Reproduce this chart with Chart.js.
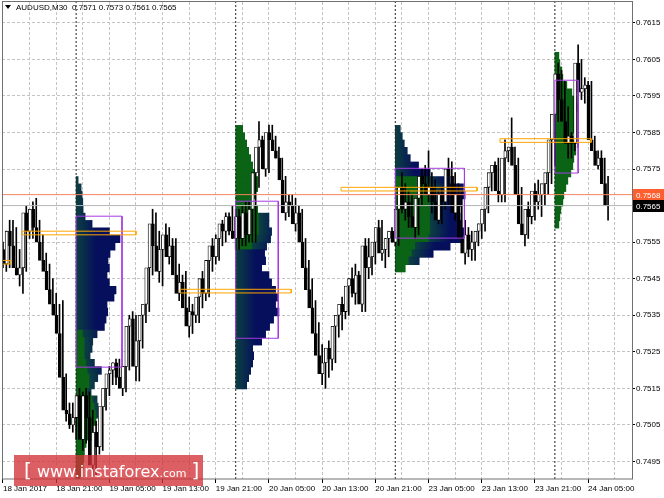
<!DOCTYPE html>
<html>
<head>
<meta charset="utf-8">
<title>AUDUSD M30</title>
<script src="https://cdn.jsdelivr.net/npm/chart.js@4.4.1/dist/chart.umd.min.js"></script>
<style>
  html, body { margin: 0; padding: 0; background: #fff; }
  #wrap { position: relative; width: 664px; height: 498px; overflow: hidden; }
  #chart { position: absolute; left: 0; top: 0; }
  #head { position: absolute; left: 5px; top: 3px; font: 8px "Liberation Sans", Arial, sans-serif; color: #000; white-space: nowrap; }
  #head .tri { display: inline-block; width: 0; height: 0; border-left: 3px solid transparent; border-right: 3px solid transparent; border-top: 4px solid #000; margin-right: 5px; vertical-align: 1px; }
  #mark { position: absolute; left: 14px; top: 455px; width: 189px; height: 31px; line-height: 30px; padding-left: 10px; box-sizing: border-box;
          background: rgba(210, 50, 55, 0.78); color: #fff; font-family: "DejaVu Sans", sans-serif; white-space: nowrap; }
  #mark .b { font-size: 20px; }
  #mark .w { font-size: 16px; }
  #mark .c { font-size: 11px; }
</style>
</head>
<body>
<div id="wrap">
  <canvas id="chart" width="664" height="498"></canvas>
  <div id="head"><span class="tri"></span>AUDUSD,M30&nbsp;&nbsp;0.7571 0.7573 0.7561 0.7565</div>
  <div id="mark"><span class="b">[</span> <span class="w">www.instaforex</span><span class="c">.com</span> <span class="b">]</span></div>
</div>
<script>
// bar index 0 = 19 Jan 00:00, one bar = 30 minutes (weekend skipped)
const firstBar = -22;

const openP = [
  0.7550, 0.7553, 0.7549, 0.7558, 0.7554, 0.7548, 0.7546, 0.7548, 0.7563, 0.7558, 0.7564, 0.7559,
  0.7555, 0.7550, 0.7547, 0.7542, 0.7538, 0.7535, 0.7530, 0.7518, 0.7509, 0.7508, 0.7505, 0.7507,
  0.7513, 0.7501, 0.7513, 0.7507, 0.7494, 0.7503, 0.7499, 0.7510, 0.7515, 0.7519, 0.7520, 0.7522,
  0.7518, 0.7515, 0.7521, 0.7532, 0.7534, 0.7521, 0.7528, 0.7535, 0.7538, 0.7548, 0.7560, 0.7554,
  0.7547, 0.7553, 0.7557, 0.7551, 0.7554, 0.7546, 0.7541, 0.7544, 0.7537, 0.7532, 0.7536, 0.7535,
  0.7540, 0.7545, 0.7541, 0.7550, 0.7554, 0.7551, 0.7556, 0.7560, 0.7558, 0.7562, 0.7558, 0.7556,
  0.7562, 0.7556, 0.7563, 0.7557, 0.7564, 0.7574, 0.7581, 0.7583, 0.7575, 0.7585, 0.7583, 0.7580,
  0.7578, 0.7572, 0.7563, 0.7566, 0.7565, 0.7560, 0.7563, 0.7555, 0.7548, 0.7542, 0.7537, 0.7530,
  0.7524, 0.7519, 0.7522, 0.7526, 0.7523, 0.7532, 0.7535, 0.7538, 0.7536, 0.7543, 0.7545, 0.7541,
  0.7546, 0.7538, 0.7554, 0.7548, 0.7551, 0.7555, 0.7559, 0.7552, 0.7553, 0.7556, 0.7558, 0.7555,
  0.7564, 0.7570, 0.7564, 0.7566, 0.7562, 0.7559, 0.7567, 0.7573, 0.7571, 0.7568, 0.7570, 0.7566,
  0.7561, 0.7568, 0.7566, 0.7575, 0.7573, 0.7563, 0.7568, 0.7556, 0.7552, 0.7557, 0.7553, 0.7555,
  0.7558, 0.7560, 0.7564, 0.7570, 0.7574, 0.7576, 0.7569, 0.7568, 0.7578, 0.7580, 0.7581, 0.7576,
  0.7568, 0.7560, 0.7557, 0.7564, 0.7562, 0.7569, 0.7566, 0.7568, 0.7571, 0.7574, 0.7583, 0.7590,
  0.7601, 0.7594, 0.7588, 0.7582, 0.7584, 0.7582, 0.7604, 0.7596, 0.7597, 0.7598, 0.7583, 0.7580,
  0.7576, 0.7578, 0.7571
];
const highP = [
  0.7555, 0.7558, 0.7561, 0.7561, 0.7559, 0.7553, 0.7550, 0.7565, 0.7564, 0.7566, 0.7567, 0.7561,
  0.7557, 0.7552, 0.7549, 0.7545, 0.7541, 0.7538, 0.7539, 0.7519, 0.7511, 0.7511, 0.7509, 0.7515,
  0.7514, 0.7515, 0.7514, 0.7509, 0.7506, 0.7505, 0.7512, 0.7516, 0.7521, 0.7522, 0.7523, 0.7523,
  0.7520, 0.7522, 0.7535, 0.7536, 0.7535, 0.7530, 0.7537, 0.7540, 0.7550, 0.7564, 0.7563, 0.7558,
  0.7556, 0.7560, 0.7559, 0.7556, 0.7556, 0.7549, 0.7546, 0.7547, 0.7540, 0.7538, 0.7539, 0.7542,
  0.7547, 0.7548, 0.7552, 0.7556, 0.7557, 0.7557, 0.7561, 0.7563, 0.7563, 0.7565, 0.7564, 0.7564,
  0.7565, 0.7566, 0.7566, 0.7566, 0.7579, 0.7588, 0.7584, 0.7584, 0.7587, 0.7587, 0.7584, 0.7581,
  0.7578, 0.7573, 0.7568, 0.7568, 0.7567, 0.7565, 0.7564, 0.7556, 0.7550, 0.7545, 0.7539, 0.7533,
  0.7527, 0.7525, 0.7528, 0.7530, 0.7534, 0.7537, 0.7540, 0.7542, 0.7545, 0.7548, 0.7549, 0.7547,
  0.7548, 0.7556, 0.7556, 0.7553, 0.7556, 0.7561, 0.7561, 0.7556, 0.7557, 0.7559, 0.7560, 0.7566,
  0.7574, 0.7571, 0.7569, 0.7568, 0.7566, 0.7568, 0.7575, 0.7576, 0.7580, 0.7574, 0.7572, 0.7569,
  0.7570, 0.7571, 0.7578, 0.7577, 0.7574, 0.7571, 0.7569, 0.7561, 0.7559, 0.7558, 0.7556, 0.7560,
  0.7561, 0.7566, 0.7573, 0.7576, 0.7577, 0.7578, 0.7575, 0.7583, 0.7581, 0.7589, 0.7581, 0.7578,
  0.7570, 0.7563, 0.7566, 0.7568, 0.7571, 0.7572, 0.7570, 0.7573, 0.7576, 0.7585, 0.7593, 0.7604,
  0.7602, 0.7599, 0.7592, 0.7585, 0.7588, 0.7609, 0.7605, 0.7600, 0.7599, 0.7599, 0.7584, 0.7580,
  0.7580, 0.7578, 0.7573
];
const lowP = [
  0.7548, 0.7547, 0.7548, 0.7552, 0.7546, 0.7543, 0.7541, 0.7547, 0.7556, 0.7556, 0.7558, 0.7553,
  0.7549, 0.7546, 0.7541, 0.7537, 0.7532, 0.7528, 0.7516, 0.7506, 0.7504, 0.7503, 0.7501, 0.7506,
  0.7498, 0.7500, 0.7505, 0.7491, 0.7491, 0.7497, 0.7498, 0.7509, 0.7513, 0.7516, 0.7516, 0.7516,
  0.7513, 0.7514, 0.7520, 0.7528, 0.7517, 0.7517, 0.7526, 0.7533, 0.7536, 0.7546, 0.7552, 0.7544,
  0.7543, 0.7551, 0.7549, 0.7548, 0.7544, 0.7539, 0.7538, 0.7535, 0.7529, 0.7530, 0.7533, 0.7533,
  0.7537, 0.7539, 0.7540, 0.7547, 0.7549, 0.7550, 0.7554, 0.7555, 0.7557, 0.7556, 0.7553, 0.7553,
  0.7554, 0.7554, 0.7555, 0.7555, 0.7555, 0.7570, 0.7579, 0.7573, 0.7574, 0.7582, 0.7578, 0.7575,
  0.7569, 0.7561, 0.7562, 0.7564, 0.7558, 0.7559, 0.7553, 0.7546, 0.7540, 0.7535, 0.7528, 0.7521,
  0.7516, 0.7515, 0.7518, 0.7520, 0.7522, 0.7529, 0.7531, 0.7534, 0.7535, 0.7540, 0.7538, 0.7539,
  0.7536, 0.7536, 0.7545, 0.7546, 0.7549, 0.7553, 0.7550, 0.7548, 0.7551, 0.7555, 0.7554, 0.7554,
  0.7563, 0.7561, 0.7559, 0.7560, 0.7556, 0.7557, 0.7565, 0.7569, 0.7566, 0.7563, 0.7563, 0.7560,
  0.7560, 0.7564, 0.7565, 0.7571, 0.7561, 0.7561, 0.7554, 0.7549, 0.7551, 0.7550, 0.7550, 0.7554,
  0.7556, 0.7558, 0.7563, 0.7569, 0.7570, 0.7566, 0.7566, 0.7566, 0.7577, 0.7579, 0.7574, 0.7566,
  0.7558, 0.7554, 0.7556, 0.7560, 0.7561, 0.7564, 0.7562, 0.7565, 0.7568, 0.7571, 0.7576, 0.7588,
  0.7592, 0.7585, 0.7578, 0.7578, 0.7580, 0.7581, 0.7594, 0.7593, 0.7594, 0.7581, 0.7579, 0.7575,
  0.7573, 0.7570, 0.7561
];
const closeP = [
  0.7553, 0.7549, 0.7558, 0.7554, 0.7548, 0.7546, 0.7548, 0.7563, 0.7558, 0.7564, 0.7559, 0.7555,
  0.7550, 0.7547, 0.7542, 0.7538, 0.7535, 0.7530, 0.7518, 0.7509, 0.7508, 0.7505, 0.7507, 0.7513,
  0.7501, 0.7513, 0.7507, 0.7494, 0.7503, 0.7499, 0.7510, 0.7515, 0.7519, 0.7520, 0.7522, 0.7518,
  0.7515, 0.7521, 0.7532, 0.7534, 0.7521, 0.7528, 0.7535, 0.7538, 0.7548, 0.7560, 0.7554, 0.7547,
  0.7553, 0.7557, 0.7551, 0.7554, 0.7546, 0.7541, 0.7544, 0.7537, 0.7532, 0.7536, 0.7535, 0.7540,
  0.7545, 0.7541, 0.7550, 0.7554, 0.7551, 0.7556, 0.7560, 0.7558, 0.7562, 0.7558, 0.7556, 0.7562,
  0.7556, 0.7563, 0.7557, 0.7564, 0.7574, 0.7581, 0.7583, 0.7575, 0.7585, 0.7583, 0.7580, 0.7578,
  0.7572, 0.7563, 0.7566, 0.7565, 0.7560, 0.7563, 0.7555, 0.7548, 0.7542, 0.7537, 0.7530, 0.7524,
  0.7519, 0.7522, 0.7526, 0.7523, 0.7532, 0.7535, 0.7538, 0.7536, 0.7543, 0.7545, 0.7541, 0.7546,
  0.7538, 0.7554, 0.7548, 0.7551, 0.7555, 0.7559, 0.7552, 0.7553, 0.7556, 0.7558, 0.7555, 0.7564,
  0.7570, 0.7564, 0.7566, 0.7562, 0.7559, 0.7567, 0.7573, 0.7571, 0.7568, 0.7570, 0.7566, 0.7561,
  0.7568, 0.7566, 0.7575, 0.7573, 0.7563, 0.7568, 0.7556, 0.7552, 0.7557, 0.7553, 0.7555, 0.7558,
  0.7560, 0.7564, 0.7570, 0.7574, 0.7576, 0.7569, 0.7568, 0.7578, 0.7580, 0.7581, 0.7576, 0.7568,
  0.7560, 0.7557, 0.7564, 0.7562, 0.7569, 0.7566, 0.7568, 0.7571, 0.7574, 0.7583, 0.7590, 0.7601,
  0.7594, 0.7588, 0.7582, 0.7584, 0.7582, 0.7604, 0.7596, 0.7597, 0.7598, 0.7583, 0.7580, 0.7576,
  0.7578, 0.7571, 0.7565
];

// axis ticks
const yTicks = [0.7495, 0.7505, 0.7515, 0.7525, 0.7535, 0.7545, 0.7555, 0.7565, 0.7575, 0.7585, 0.7595, 0.7605, 0.7615];
const xLabelBars = [-22, -6, 10, 26, 42, 58, 74, 90, 106, 122, 138, 154];
const xTickLabels = ['18 Jan 2017', '18 Jan 21:00', '19 Jan 05:00', '19 Jan 13:00', '19 Jan 21:00', '20 Jan 05:00',
                     '20 Jan 13:00', '20 Jan 21:00', '23 Jan 05:00', '23 Jan 13:00', '23 Jan 21:00', '24 Jan 05:00'];

// market profile: one profile per day, rows of 2 pips from the top price down,
// counts in bars (TPOs): early part (green) then late part (blue)
const sessionStarts = [0, 48, 96, 144];
const profileTop = [0.7574, 0.7588, 0.7588, 0.7608];
const rowStep = 0.0002;
const p1Green = [0, 0, 0, 0, 0, 0, 0, 0, 0, 0, 0, 0, 0, 0, 0, 0, 0, 0, 0, 0, 0,
                 2, 2.5, 2.5, 2.5, 3, 3.5, 4, 4, 3.5, 5, 5.5, 6, 6, 5.1, 4.5, 3, 2.5, 2.3, 2.1, 2, 1.2];
const p1Blue = [0.6, 1.5, 1.8, 2, 2.1, 2.7, 4.8, 10, 13.2, 11.7, 10.2, 9.6, 10, 9.3, 10, 12, 11.4, 9.3, 9.5, 9, 8.5,
                4.3, 2.5, 2.3, 1.7, 2.5, 4.1, 2.5, 1.5, 1, 1.3, 1.1, 0.6, 0, 0, 0, 0, 0, 0, 0, 0, 0];
const p2Green = [2.1, 2.7, 3.3, 3.9, 4.5, 5.1, 5.7, 6.6, 6.6, 6, 5.4, 6.6, 7, 7, 7, 6.5, 5,
                 0, 0, 0, 0, 0, 0, 0, 0, 0, 0, 0, 0, 0, 0, 0, 0, 0, 0, 0];
const p2Blue = [0, 0, 0, 0, 0, 0, 0, 0, 0, 0, 0, 0, 3, 3, 3.8, 4, 4.3,
                8.7, 9, 7.8, 10, 10.8, 12, 12.6, 12, 13, 11.4, 10.2, 9, 7.8, 5.1, 5.4, 5.1, 4.5, 3.9, 3.3];
const p3Green = [0, 0, 0, 0, 0, 0, 0, 9, 10.5, 10.5, 10.5, 10.5, 10.5, 10.5, 10.5, 10, 6, 5, 4, 3];
const p3Blue = [1.5, 2.1, 2.7, 3.6, 4.5, 7, 10.5, 7.5, 10, 10.5, 9.5, 8.7, 9, 9.5, 10.2, 10.5, 10.5, 6.4, 3.2, 0];
const p4Green = [1.2, 1.5, 2.1, 2.4, 3.6, 5.1, 6.6, 7, 6.3, 6, 5.7, 5.4, 6.3, 6.3, 5.7, 5.4, 4.8, 3.9, 3.3, 2.7, 2.4, 1.8, 1.5, 1.2];
const p4Blue = [0, 0, 0, 0, 0, 0, 0, 0, 0, 0, 0, 0, 0, 0, 0, 0, 0, 0, 0, 0, 0, 0, 0, 0];

// value areas (purple boxes) and POC levels (orange boxes)
const vaTop = [0.75621, 0.75662, 0.75752, 0.75993];
const vaBottom = [0.75208, 0.75287, 0.75561, 0.75739];
const vaEnd = [13.8, 60.8, 116.8, 151];
const pocPrice = [0.75495, 0.75575, 0.75416, 0.75695, 0.75828];
const pocFrom = [-22.3, -16.2, 31.3, 79.7, 127.5];
const pocTo = [-19.8, 18, 64.7, 120.6, 154.9];

const askPrice = 0.7568;
const bidPrice = 0.7565;

// ---------------------------------------------------------------
const yMin = 0.74902, yMax = 0.76207;
const xMin = -22.3, xMax = 167.2;
const rowPx = 477 / (yMax - yMin) * rowStep + 0.4;

const bars = openP.map((_, k) => firstBar + k);
const bodyData = bars.map((b, k) => ({x: b, y: [openP[k], closeP[k]], up: closeP[k] >= openP[k]}));
const wickData = bars.map((b, k) => ({x: b, y: [lowP[k], highP[k]]}));

const profiles = [[p1Green, p1Blue], [p2Green, p2Blue], [p3Green, p3Blue], [p4Green, p4Blue]];
const profileRows = [];
profiles.forEach(([g, b], k) => {
    const s = sessionStarts[k];
    g.forEach((gv, r) => {
        const price = profileTop[k] - r * rowStep;
        if (gv > 0) profileRows.push({y: price, x: [s, s + gv], tone: 'green'});
        if (b[r] > 0) profileRows.push({y: price, x: [s + gv, s + gv + b[r]], tone: 'blue'});
    });
});

function profileColor(c) {
    const raw = c.raw;
    if (!raw || raw.tone === 'green') return '#0b6415';
    const chart = c.chart;
    const sx = chart.scales.xp;
    if (!sx || !chart.chartArea) return '#08285a';
    const x0 = sx.getPixelForValue(raw.x[0]);
    const x1 = sx.getPixelForValue(raw.x[0] + 6);
    if (!isFinite(x0) || !isFinite(x1) || x1 <= x0) return '#08285a';
    const grad = chart.ctx.createLinearGradient(x0, 0, x1, 0);
    grad.addColorStop(0, '#0b4040');
    grad.addColorStop(1, '#050f5c');
    return grad;
}

function segment(points, color, order, dash) {
    return {
        type: 'line', data: points, xAxisID: 'x', yAxisID: 'y',
        borderColor: color, borderWidth: 1, borderDash: dash || [],
        pointRadius: 0, fill: false, tension: 0, order: order
    };
}

const lineSets = [];
// POC boxes
pocPrice.forEach((p, k) => {
    const h = 0.00005;
    lineSets.push(segment([
        {x: pocFrom[k], y: p + h}, {x: pocTo[k], y: p + h}, {x: pocTo[k], y: p - h},
        {x: pocFrom[k], y: p - h}, {x: pocFrom[k], y: p + h}], '#ffa500', 0));
});
// value area boxes
vaTop.forEach((t, k) => {
    const s = sessionStarts[k];
    lineSets.push(segment([
        {x: s, y: t}, {x: vaEnd[k], y: t}, {x: vaEnd[k], y: vaBottom[k]},
        {x: s, y: vaBottom[k]}, {x: s, y: t}], '#a53be2', 0));
});
// bid / ask lines
lineSets.push(segment([{x: xMin, y: askPrice}, {x: xMax, y: askPrice}], '#f4845f', 1));
lineSets.push(segment([{x: xMin, y: bidPrice}, {x: xMax, y: bidPrice}], '#b8b8b8', 1));
// day separators
sessionStarts.forEach(s => {
    lineSets.push(segment([{x: s, y: yMin}, {x: s, y: yMax}], '#222', 4, [2, 2]));
});

const xGridBars = [];
xLabelBars.forEach(b => { xGridBars.push(b); if (b + 8 < xMax) xGridBars.push(b + 8); });

const frameAndTags = {
    id: 'frameAndTags',
    afterDraw(chart) {
        const {ctx, chartArea: a, scales: {y}} = chart;
        ctx.save();
        ctx.strokeStyle = '#707070';
        ctx.lineWidth = 1;
        ctx.strokeRect(Math.round(a.left) + 0.5, Math.round(a.top) - 0.5, Math.round(a.right - a.left), Math.round(a.bottom - a.top) + 0.5);
        [[askPrice, '#ff5f2e'], [bidPrice, '#000000']].forEach(([p, col]) => {
            const py = Math.round(y.getPixelForValue(p));
            ctx.fillStyle = col;
            ctx.fillRect(a.right + 1, py - 6, 32, 12);
            ctx.fillStyle = '#ffffff';
            ctx.font = '8px "Liberation Sans", Arial, sans-serif';
            ctx.textBaseline = 'middle';
            ctx.textAlign = 'left';
            ctx.fillText(p.toFixed(4), a.right + 4, py + 0.5);
        });
        ctx.restore();
    }
};

Chart.defaults.font.family = '"Liberation Sans", Arial, sans-serif';
Chart.defaults.font.size = 8;
Chart.defaults.color = '#000';

const hiddenX = {type: 'linear', axis: 'x', display: false, min: xMin, max: xMax, offset: false, beginAtZero: false, grid: {offset: false}};

const chart = new Chart(document.getElementById('chart'), {
    type: 'bar',
    data: {
        datasets: [
            ...lineSets,
            {
                label: 'body', data: bodyData, xAxisID: 'x', yAxisID: 'y', order: 2,
                barThickness: 3, minBarLength: 1, borderSkipped: false, borderWidth: 0.8,
                borderColor: '#000',
                backgroundColor: c => (c.raw && c.raw.up ? '#ffffff' : '#000000')
            },
            {
                label: 'wick', data: wickData, xAxisID: 'xw', yAxisID: 'y', order: 3,
                barThickness: 1, borderWidth: 0, backgroundColor: '#000'
            },
            {
                label: 'profile', data: profileRows, indexAxis: 'y', xAxisID: 'xp', yAxisID: 'yp', order: 5,
                barThickness: rowPx, borderWidth: 0, backgroundColor: profileColor
            }
        ]
    },
    options: {
        responsive: false,
        animation: false,
        events: [],
        devicePixelRatio: 1,
        layout: {padding: {left: 2, top: 2, right: 0, bottom: 0}},
        plugins: {legend: {display: false}, tooltip: {enabled: false}},
        scales: {
            x: {
                type: 'linear', position: 'bottom', min: xMin, max: xMax, offset: false, z: 1,
                afterBuildTicks: s => { s.ticks = xGridBars.map(v => ({value: v})); },
                afterFit: s => { s.height = 19; s.paddingLeft = 0; s.paddingRight = 0; },
                grid: {
                    color: '#c4c4c4', offset: false, drawTicks: true, tickLength: 4, tickBorderDash: [],
                    tickColor: c => (c.tick && xLabelBars.includes(c.tick.value) ? '#000' : 'rgba(0,0,0,0)')
                },
                border: {display: false, dash: [3, 2]},
                ticks: {
                    autoSkip: false, maxRotation: 0, align: 'start', padding: 1,
                    callback: v => { const k = xLabelBars.indexOf(v); return k >= 0 ? xTickLabels[k] : ''; }
                }
            },
            xw: hiddenX,
            xp: hiddenX,
            y: {
                type: 'linear', position: 'right', min: yMin, max: yMax, beginAtZero: false, z: 1,
                afterBuildTicks: s => { s.ticks = yTicks.map(v => ({value: v})); },
                afterFit: s => { s.width = 32; s.paddingTop = 0; s.paddingBottom = 0; },
                grid: {color: '#c4c4c4', drawTicks: true, tickLength: 3, tickBorderDash: [], tickColor: '#000'},
                border: {display: false, dash: [3, 2]},
                ticks: {autoSkip: false, padding: 1, crossAlign: 'near', callback: v => v.toFixed(4)}
            },
            yp: {type: 'linear', axis: 'y', display: false, min: yMin, max: yMax, offset: false, beginAtZero: false, grid: {offset: false}}
        }
    },
    plugins: [frameAndTags]
});
</script>
</body>
</html>
